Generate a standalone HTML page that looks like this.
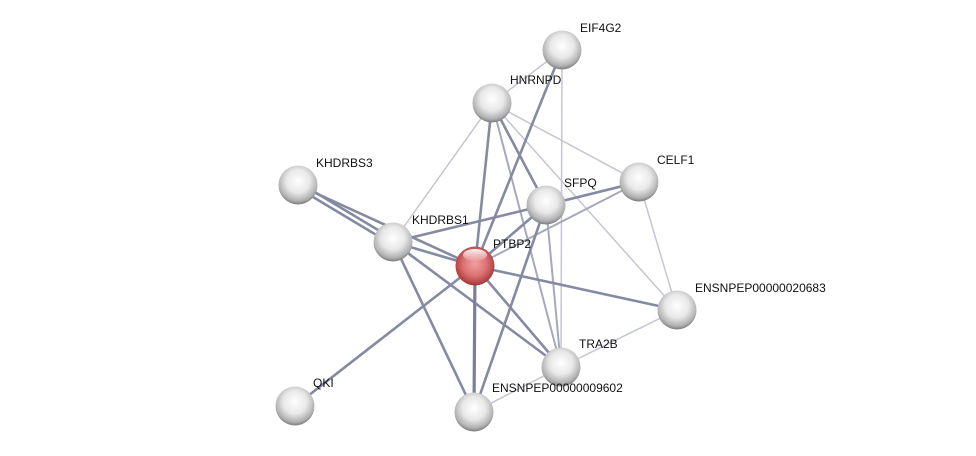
<!DOCTYPE html>
<html><head><meta charset="utf-8"><style>
html,body{margin:0;padding:0;background:#fff;width:976px;height:456px;overflow:hidden}
text{font-family:"Liberation Sans",sans-serif;font-size:12px;fill:#111}
</style></head><body>
<svg width="976" height="456" xmlns="http://www.w3.org/2000/svg">
<defs>
<radialGradient id="g" cx="50%" cy="40%" r="60%">
<stop offset="0" stop-color="#ffffff"/><stop offset="0.5" stop-color="#e8e8e8"/><stop offset="0.85" stop-color="#b0b0b0"/><stop offset="1" stop-color="#7a7a7a"/>
</radialGradient>
<radialGradient id="r" cx="50%" cy="45%" r="60%">
<stop offset="0" stop-color="#f0a0a0"/><stop offset="0.5" stop-color="#dc7272"/><stop offset="0.85" stop-color="#b04040"/><stop offset="1" stop-color="#802626"/>
</radialGradient>
<linearGradient id="hl" x1="0" y1="0" x2="0" y2="1"><stop offset="0" stop-color="#fff" stop-opacity="0.95"/><stop offset="1" stop-color="#fff" stop-opacity="0.1"/></linearGradient>
</defs>
<g stroke-linecap="round">
<g stroke="#c4c6d2" stroke-width="1.5">
<line x1="562" y1="50" x2="492" y2="103"/>
<line x1="562" y1="50" x2="561" y2="367"/>
<line x1="492" y1="103" x2="393" y2="242"/>
<line x1="492" y1="103" x2="639" y2="182"/>
<line x1="492" y1="103" x2="677" y2="310"/>
<line x1="639" y1="182" x2="677" y2="310"/>
<line x1="677" y1="310" x2="561" y2="367"/>
<line x1="561" y1="367" x2="474" y2="412"/>
</g>
<g stroke="#a6a9bb" stroke-width="2">
<line x1="492" y1="103" x2="561" y2="367"/>
<line x1="546" y1="205" x2="561" y2="367"/>
<line x1="475" y1="266" x2="639" y2="182"/>
</g>
<g stroke="#858aa2" stroke-width="2.6">
<line x1="562" y1="50" x2="475" y2="266"/>
<line x1="492" y1="103" x2="475" y2="266"/>
<line x1="492" y1="103" x2="546" y2="205"/>
<line x1="298" y1="182" x2="393" y2="239"/>
<line x1="298" y1="188" x2="393" y2="245"/>
<line x1="298" y1="185" x2="475" y2="266"/>
<line x1="393" y1="242" x2="546" y2="205"/>
<line x1="393" y1="242" x2="475" y2="266"/>
<line x1="393" y1="242" x2="561" y2="367"/>
<line x1="393" y1="242" x2="474" y2="412"/>
<line x1="475" y1="266" x2="546" y2="205"/>
<line x1="475" y1="266" x2="677" y2="310"/>
<line x1="475" y1="266" x2="295" y2="406"/>
<line x1="475" y1="266" x2="561" y2="367"/>
<line x1="546" y1="205" x2="639" y2="182"/>
<line x1="546" y1="205" x2="474" y2="412"/>
</g>
<line x1="475" y1="266" x2="474" y2="412" stroke="#7a7f98" stroke-width="3.2"/>
</g>
<g>
<circle cx="562" cy="50" r="19.5" fill="url(#g)"/>
<circle cx="492" cy="103" r="19.5" fill="url(#g)"/>
<circle cx="298" cy="185" r="19.5" fill="url(#g)"/>
<circle cx="639" cy="182" r="19.5" fill="url(#g)"/>
<circle cx="546" cy="205" r="19.5" fill="url(#g)"/>
<circle cx="393" cy="242" r="19.5" fill="url(#g)"/>
<circle cx="475" cy="266" r="19.5" fill="url(#r)"/>
<circle cx="677" cy="310" r="19.5" fill="url(#g)"/>
<circle cx="561" cy="367" r="19.5" fill="url(#g)"/>
<circle cx="295" cy="406" r="19.5" fill="url(#g)"/>
<circle cx="474" cy="412" r="19.5" fill="url(#g)"/>
</g>
<ellipse cx="475" cy="255" rx="12" ry="6" fill="url(#hl)"/>
<text x="580" y="32">EIF4G2</text>
<text x="510" y="84">HNRNPD</text>
<text x="316" y="167">KHDRBS3</text>
<text x="657" y="164">CELF1</text>
<text x="564" y="187">SFPQ</text>
<text x="412" y="224">KHDRBS1</text>
<text x="493" y="248">PTBP2</text>
<text x="695" y="292">ENSNPEP00000020683</text>
<text x="579" y="348">TRA2B</text>
<text x="313" y="387">QKI</text>
<text x="492" y="392">ENSNPEP00000009602</text>
</svg>
</body></html>
